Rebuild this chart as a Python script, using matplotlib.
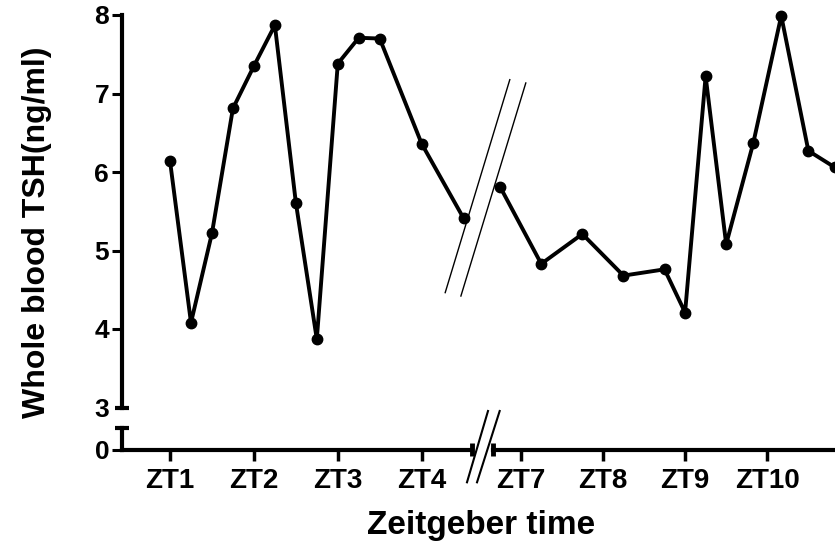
# --- Whole blood TSH across Zeitgeber time (broken axes) ---
import matplotlib.pyplot as plt
from matplotlib.lines import Line2D

plt.rcParams['font.family'] = ['Liberation Sans', 'DejaVu Sans']
plt.rcParams['font.weight'] = 'bold'

# Sampling times (ZT) and TSH values, before and after the gap
zt_early = [1, 1.25, 1.5, 1.75, 2, 2.25, 2.5, 2.75, 3, 3.25, 3.5, 4, 4.5]
tsh_early = [6.14, 4.08, 5.22, 6.81, 7.35, 7.87, 5.61, 3.87, 7.38, 7.71, 7.70, 6.36, 5.41]
zt_late = [6.75, 7.25, 7.75, 8.25, 8.75, 9.0, 9.25, 9.5, 9.83, 10.17, 10.5, 10.82]
tsh_late = [5.81, 4.83, 5.21, 4.68, 4.76, 4.21, 7.22, 5.08, 6.37, 7.99, 6.27, 6.06]

ticks_early = [1, 2, 3, 4]
labels_early = ["ZT1", "ZT2", "ZT3", "ZT4"]
ticks_late = [7, 8, 9, 10]
labels_late = ["ZT7", "ZT8", "ZT9", "ZT10"]
y_ticks = [3, 4, 5, 6, 7, 8]

W, H = 835, 544
fig = plt.figure(figsize=(W / 100, H / 100), dpi=100)


def box(x0, y0, x1, y1):
    # pixel box (top-left origin) -> figure fraction rect
    return [x0 / W, 1 - y1 / H, (x1 - x0) / W, (y1 - y0) / H]


def seg(x0, y0, x1, y1, lw):
    # decoration line given in pixels
    fig.add_artist(Line2D([x0 / W, x1 / W], [1 - y0 / H, 1 - y1 / H],
                          transform=fig.transFigure, color='k', lw=lw,
                          solid_capstyle='butt'))


ax_tl = fig.add_axes(box(121.7, 15, 472, 407.5))
ax_tr = fig.add_axes(box(493, 15, 835, 407.5))
ax_bl = fig.add_axes(box(121.7, 427.5, 472, 449.5))
ax_br = fig.add_axes(box(493, 427.5, 835, 449.5))

for ax in [ax_tl, ax_tr, ax_bl, ax_br]:
    ax.patch.set_alpha(0)
    for s in ax.spines.values():
        s.set_visible(False)
        s.set_linewidth(3)
    ax.tick_params(axis='y', length=7, width=2.2, pad=2, labelsize=19)
    ax.tick_params(axis='x', length=8, width=2.5, pad=5, labelsize=20)

ax_tl.set_xlim(0.424, 4.6)
ax_bl.set_xlim(0.424, 4.6)
ax_tr.set_xlim(6.663, 10.824)
ax_br.set_xlim(6.663, 10.824)
ax_tl.set_ylim(3, 8)
ax_tr.set_ylim(3, 8)
ax_bl.set_ylim(0, 1)
ax_br.set_ylim(0, 1)

# upper left: y axis 3-8
ax_tl.spines['left'].set_visible(True)
ax_tl.set_yticks(y_ticks)
ax_tl.set_xticks([])
ax_tl.yaxis.get_major_ticks()[0].tick1line.set_visible(False)

ax_tr.set_xticks([])
ax_tr.set_yticks([])

# lower left: 0 stub + x axis
ax_bl.spines['left'].set_visible(True)
ax_bl.spines['bottom'].set_visible(True)
ax_bl.set_yticks([0])
ax_bl.set_xticks(ticks_early)
ax_bl.set_xticklabels(labels_early)

ax_br.spines['bottom'].set_visible(True)
ax_br.set_yticks([])
ax_br.set_xticks(ticks_late)
ax_br.set_xticklabels(labels_late)

# data
ax_tl.plot(zt_early, tsh_early, '-o', color='k', lw=2.8, ms=7.5, clip_on=False)
ax_tr.plot(zt_late, tsh_late, '-o', color='k', lw=2.8, ms=7.5, clip_on=False)

# axis break caps
seg(115, 407.5, 128.5, 407.5, 3)
seg(115, 427.5, 128.5, 427.5, 3)
seg(472, 443, 472, 456, 3.5)
seg(493, 443, 493, 456, 3.5)
# small slashes on the x axis
seg(466.7, 483.3, 488.3, 410, 1.5)
seg(476.7, 483.3, 500, 410, 1.5)
# long slashes across the plot
seg(445, 293.3, 510, 79, 1)
seg(460.7, 296.7, 526, 82.3, 1)

# axis titles
fig.text(45 / W, 1 - 232 / H, "Whole blood TSH(ng/ml)", rotation=90,
         rotation_mode='anchor', ha='center', va='baseline', fontsize=23)
fig.text(481.5 / W, 1 - 534 / H, "Zeitgeber time", ha='center',
         va='baseline', fontsize=24)

fig.savefig("out.png", dpi=100)
